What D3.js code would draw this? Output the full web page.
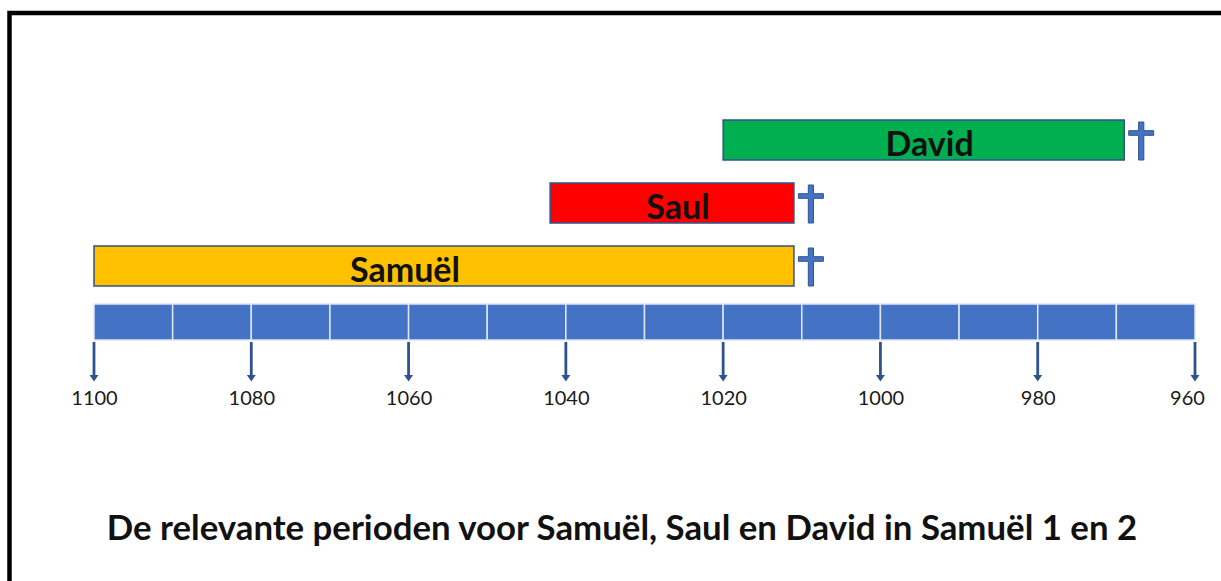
<!DOCTYPE html>
<html>
<head>
<meta charset="utf-8">
<script src="https://cdn.jsdelivr.net/npm/d3@7"></script>
<style>
  html, body { margin: 0; padding: 0; background: #fff; }
  svg { display: block; }
</style>
</head>
<body>
<svg id="chart" width="1221" height="581"></svg>
<script>
// ---- data ----
const people = ["Samuël", "Saul", "David"];
const startYears = [1100, 1042, 1020];
const endYears = [1011, 1011, 969];
const segmentYears = [1100, 1090, 1080, 1070, 1060, 1050, 1040, 1030, 1020, 1010, 1000, 990, 980, 970];
const tickYears = [1100, 1080, 1060, 1040, 1020, 1000, 980, 960];
const titleText = "De relevante perioden voor Samuël, Saul en David in Samuël 1 en 2";

// ---- styles ----
const barColors = ["#FFC000", "#FF0000", "#00B050"];
const darkBlue = "#2F528F";
const midBlue = "#4472C4";
const font = "Lato, 'Open Sans', sans-serif";

const svg = d3.select("#chart");

// frame
svg.append("rect")
  .attr("x", 9.5).attr("y", 13).attr("width", 1400).attr("height", 800)
  .attr("fill", "none").attr("stroke", "#000").attr("stroke-width", 4.5);

const x = d3.scaleLinear().domain([1100, 960]).range([94, 1195]);
const y = d3.scalePoint().domain(people).range([266, 140]);
const barH = 40;

// timeline band
svg.append("g").selectAll("rect").data(segmentYears).join("rect")
  .attr("x", d => x(d))
  .attr("y", 304)
  .attr("width", d => x(d - 10) - x(d))
  .attr("height", 36)
  .attr("fill", midBlue)
  .attr("stroke", "#dce6f5")
  .attr("stroke-width", 1.5);

// arrow ticks
const ticks = svg.append("g");
ticks.selectAll("line").data(tickYears).join("line")
  .attr("x1", d => x(d)).attr("x2", d => x(d))
  .attr("y1", 342).attr("y2", 376)
  .attr("stroke", darkBlue).attr("stroke-width", 2.8);
ticks.selectAll("path").data(tickYears).join("path")
  .attr("d", d => `M${x(d) - 4.5},375 L${x(d) + 4.5},375 L${x(d)},381.5 Z`)
  .attr("fill", darkBlue);

const axis = d3.axisBottom(x).tickValues(tickYears).tickSize(0).tickFormat(d3.format("d"));
const ax = svg.append("g").attr("transform", "translate(0,391)").call(axis);
ax.select(".domain").remove();
ax.selectAll("text")
  .attr("font-family", font).attr("font-size", 20).attr("fill", "#1a1a1a")
  .attr("dy", "0.71em").attr("y", 0)
  .attr("dx", d => d === 960 ? -8 : 0);

// bars
const rows = people.map((p, i) => ({ name: p, start: startYears[i], end: endYears[i], color: barColors[i] }));
const bars = svg.append("g");
bars.selectAll("rect").data(rows).join("rect")
  .attr("x", d => x(d.start))
  .attr("y", d => y(d.name) - barH / 2)
  .attr("width", d => x(d.end) - x(d.start))
  .attr("height", barH)
  .attr("fill", d => d.color)
  .attr("stroke", darkBlue).attr("stroke-width", 1.5);

const labelShift = { "Samuël": -39, "Saul": 6, "David": 6 };
bars.selectAll("text").data(rows).join("text")
  .attr("x", d => (x(d.start) + x(d.end)) / 2 + labelShift[d.name])
  .attr("y", d => y(d.name) + 16)
  .attr("text-anchor", "middle")
  .attr("font-family", font).attr("font-weight", "bold").attr("font-size", 34)
  .attr("fill", "#111")
  .text(d => d.name);

// crosses
function crossPath(cx, top, bottom, armY) {
  const w = 2.6, a = 12.5, h = 2.3;
  return `M${cx - w},${top} L${cx + w},${top} L${cx + w},${armY - h} L${cx + a},${armY - h} L${cx + a},${armY + h} L${cx + w},${armY + h} L${cx + w},${bottom} L${cx - w},${bottom} L${cx - w},${armY + h} L${cx - a},${armY + h} L${cx - a},${armY - h} L${cx - w},${armY - h} Z`;
}
bars.selectAll("path.cross").data(rows).join("path")
  .attr("class", "cross")
  .attr("d", d => {
    const top = y(d.name) - barH / 2 + 2;
    return crossPath(x(d.end) + 17, top, top + 38, top + 11);
  })
  .attr("fill", midBlue).attr("stroke", darkBlue).attr("stroke-width", 1);

// title, fitted to the reference width
const title = svg.append("text")
  .attr("x", 622).attr("y", 540)
  .attr("text-anchor", "middle")
  .attr("font-family", font).attr("font-weight", "bold").attr("font-size", 28)
  .attr("fill", "#111")
  .text(titleText);
const tw = title.node().getComputedTextLength();
title.attr("font-size", 28 * 1031 / tw);
</script>
</body>
</html>
